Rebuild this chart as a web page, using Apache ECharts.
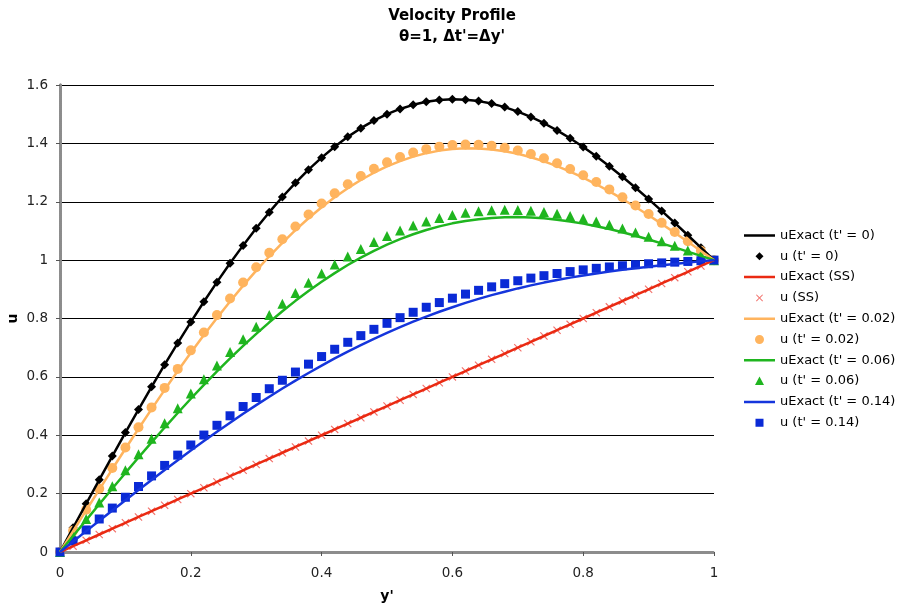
<!DOCTYPE html>
<html>
<head>
<meta charset="utf-8">
<script src="https://cdn.jsdelivr.net/npm/echarts@6/dist/echarts.min.js"></script>
<style>
html,body{margin:0;padding:0;background:#fff;}
#chart{width:904px;height:609px;}
</style>
</head>
<body>
<div id="chart"></div>
<script>
// y' positions (shared by all series)
const yPrime = [0,0.02,0.04,0.06,0.08,0.1,0.12,0.14,0.16,0.18,0.2,0.22,0.24,0.26,0.28,0.3,0.32,0.34,0.36,0.38,0.4,0.42,0.44,0.46,0.48,0.5,0.52,0.54,0.56,0.58,0.6,0.62,0.64,0.66,0.68,0.7,0.72,0.74,0.76,0.78,0.8,0.82,0.84,0.86,0.88,0.9,0.92,0.94,0.96,0.98,1];

// t' = 0 (exact and numerical coincide)
const uExact0 = [0,0.0828,0.1653,0.2474,0.3287,0.409,0.4881,0.5658,0.6418,0.7158,0.7878,0.8574,0.9245,0.989,1.0505,1.109,1.1643,1.2163,1.2648,1.3098,1.3511,1.3886,1.4223,1.4521,1.478,1.5,1.518,1.5321,1.5423,1.5486,1.5511,1.5498,1.5448,1.5363,1.5243,1.509,1.4905,1.469,1.4445,1.4174,1.3878,1.3558,1.3218,1.2858,1.2481,1.209,1.1687,1.1274,1.0853,1.0428,1];
const uNum0 = [0,0.0828,0.1653,0.2474,0.3287,0.409,0.4881,0.5658,0.6418,0.7158,0.7878,0.8574,0.9245,0.989,1.0505,1.109,1.1643,1.2163,1.2648,1.3098,1.3511,1.3886,1.4223,1.4521,1.478,1.5,1.518,1.5321,1.5423,1.5486,1.5511,1.5498,1.5448,1.5363,1.5243,1.509,1.4905,1.469,1.4445,1.4174,1.3878,1.3558,1.3218,1.2858,1.2481,1.209,1.1687,1.1274,1.0853,1.0428,1];

// steady state
const uExactSS = [0,0.02,0.04,0.06,0.08,0.1,0.12,0.14,0.16,0.18,0.2,0.22,0.24,0.26,0.28,0.3,0.32,0.34,0.36,0.38,0.4,0.42,0.44,0.46,0.48,0.5,0.52,0.54,0.56,0.58,0.6,0.62,0.64,0.66,0.68,0.7,0.72,0.74,0.76,0.78,0.8,0.82,0.84,0.86,0.88,0.9,0.92,0.94,0.96,0.98,1];
const uNumSS = [0,0.02,0.04,0.06,0.08,0.1,0.12,0.14,0.16,0.18,0.2,0.22,0.24,0.26,0.28,0.3,0.32,0.34,0.36,0.38,0.4,0.42,0.44,0.46,0.48,0.5,0.52,0.54,0.56,0.58,0.6,0.62,0.64,0.66,0.68,0.7,0.72,0.74,0.76,0.78,0.8,0.82,0.84,0.86,0.88,0.9,0.92,0.94,0.96,0.98,1];

// t' = 0.02
const uExact002 = [0,0.0716,0.1429,0.2139,0.2842,0.3537,0.4222,0.4896,0.5556,0.6199,0.6826,0.7433,0.802,0.8585,0.9126,0.9642,1.0132,1.0594,1.1028,1.1434,1.1809,1.2152,1.2465,1.2745,1.2994,1.321,1.3394,1.3545,1.3665,1.3752,1.3809,1.3834,1.3828,1.3794,1.3732,1.3642,1.3526,1.3385,1.322,1.3033,1.2826,1.2599,1.2356,1.2096,1.1822,1.1537,1.1242,1.0939,1.0629,1.0316,1];
const uNum002 = [0,0.0724,0.1446,0.2165,0.2877,0.358,0.4274,0.4955,0.5623,0.6274,0.6908,0.7522,0.8116,0.8687,0.9234,0.9755,1.025,1.0717,1.1155,1.1564,1.1942,1.2288,1.2602,1.2884,1.3133,1.335,1.3533,1.3684,1.3802,1.3888,1.3942,1.3964,1.3955,1.3917,1.385,1.3755,1.3634,1.3487,1.3316,1.3122,1.2908,1.2674,1.2423,1.2155,1.1874,1.158,1.1277,1.0965,1.0646,1.0324,1];

// t' = 0.06
const uExact006 = [0,0.0547,0.1093,0.1636,0.2175,0.2709,0.3236,0.3755,0.4264,0.4763,0.5251,0.5725,0.6185,0.6631,0.7061,0.7474,0.7869,0.8246,0.8604,0.8942,0.926,0.9556,0.9832,1.0086,1.0319,1.053,1.0719,1.0886,1.1032,1.1156,1.126,1.1342,1.1404,1.1446,1.1469,1.1474,1.1461,1.1431,1.1385,1.1325,1.1251,1.1163,1.1064,1.0955,1.0836,1.0709,1.0575,1.0436,1.0293,1.0147,1];
const uNum006 = [0,0.0566,0.113,0.1693,0.225,0.2801,0.3346,0.3882,0.4409,0.4924,0.5427,0.5916,0.6391,0.685,0.7292,0.7716,0.8122,0.8509,0.8875,0.9221,0.9545,0.9847,1.0127,1.0384,1.0618,1.083,1.1018,1.1184,1.1327,1.1447,1.1545,1.1621,1.1675,1.1709,1.1722,1.1716,1.1692,1.165,1.1591,1.1516,1.1427,1.1324,1.1209,1.1082,1.0946,1.0801,1.065,1.0493,1.033,1.0166,1];

// t' = 0.14
const uExact014 = [0,0.0358,0.0715,0.107,0.1424,0.1776,0.2124,0.2469,0.2809,0.3145,0.3475,0.38,0.4118,0.443,0.4734,0.5031,0.5319,0.56,0.5871,0.6134,0.6387,0.6631,0.6866,0.709,0.7305,0.751,0.7705,0.789,0.8066,0.8231,0.8387,0.8534,0.8671,0.88,0.8919,0.9031,0.9134,0.923,0.9318,0.94,0.9475,0.9545,0.9609,0.9669,0.9724,0.9776,0.9824,0.987,0.9915,0.9958,1];
const uNum014 = [0,0.0378,0.0755,0.1131,0.1505,0.1876,0.2244,0.2607,0.2966,0.3319,0.3666,0.4007,0.4341,0.4667,0.4984,0.5294,0.5594,0.5884,0.6165,0.6436,0.6696,0.6946,0.7185,0.7413,0.7629,0.7835,0.8029,0.8213,0.8385,0.8546,0.8696,0.8836,0.8965,0.9084,0.9194,0.9294,0.9384,0.9467,0.9541,0.9607,0.9666,0.9719,0.9766,0.9807,0.9844,0.9876,0.9905,0.9931,0.9955,0.9978,1];

const seriesNames = ["uExact (t' = 0)","u (t' = 0)","uExact (SS)","u (SS)","uExact (t' = 0.02)","u (t' = 0.02)","uExact (t' = 0.06)","u (t' = 0.06)","uExact (t' = 0.14)","u (t' = 0.14)"];
const xTicks = {min:0, max:1, step:0.2};
const yTicks = {min:0, max:1.6, step:0.2};

const pairs = arr => yPrime.map((x,i)=>[x,arr[i]]);
const FONT = 'DejaVu Sans';
const crossPath = 'path://M0,1L1,0L5,4L9,0L10,1L6,5L10,9L9,10L5,6L1,10L0,9L4,5Z';

// legend icons: tiny anchor segments fix the icon box to 31x12 so shapes keep their own size
const A = 'M0,0L0.01,0M31,12L30.99,12';
const icons = {
  line: 'path://' + A + 'M0,4.75L31,4.75L31,7.25L0,7.25Z',
  diamond: 'path://' + A + 'M15.5,2L19.5,6L15.5,10L11.5,6Z',
  cross: 'path://' + A + 'M12,3.2L12.7,2.5L15.5,5.3L18.3,2.5L19,3.2L16.2,6L19,8.8L18.3,9.5L15.5,6.7L12.7,9.5L12,8.8L14.8,6Z',
  circle: 'path://' + A + 'M11,6A4.5,4.5,0,1,1,20,6A4.5,4.5,0,1,1,11,6Z',
  triangle: 'path://' + A + 'M15.5,1.5L20,10L11,10Z',
  square: 'path://' + A + 'M11.5,2L19.5,2L19.5,10L11.5,10Z'
};
const legendIcons = [icons.line, icons.diamond, icons.line, icons.cross, icons.line, icons.circle, icons.line, icons.triangle, icons.line, icons.square];

function lineS(name, data, color){
  return {name, type:'line', data:pairs(data), symbol:'none', showSymbol:false,
    lineStyle:{color, width:2.5}, itemStyle:{color}, silent:true, animation:false};
}
function scatS(name, data, color, symbol, size){
  return {name, type:'scatter', data:pairs(data), symbol, symbolSize:size,
    itemStyle:{color, opacity:1}, silent:true, animation:false};
}

const chart = echarts.init(document.getElementById('chart'), null, {renderer:'canvas'});
const borderLine = {show:true, lineStyle:{color:'#8c8c8c', width:3, type:[1,1]}};
chart.setOption({
  backgroundColor:'#fff',
  animation:false,
  title:{
    text:'Velocity Profile\nθ=1, Δt\'=Δy\'',
    left:'center', top:1,
    textStyle:{fontFamily:FONT, fontSize:15, fontWeight:'bold', color:'#000', lineHeight:21}
  },
  legend:{
    orient:'vertical', left:744, top:229, padding:0,
    itemWidth:31, itemHeight:12, itemGap:7.8,
    symbolKeepAspect:true,
    itemStyle:{borderWidth:0},
    data:seriesNames.map((n,i)=>({name:n, icon:legendIcons[i]})),
    textStyle:{fontFamily:FONT, fontSize:13, color:'#000'},
    selectedMode:false
  },
  grid:{left:60, top:85, width:654, height:467, containLabel:false, outerBoundsMode:'none'},
  xAxis:[{
    type:'value', min:xTicks.min, max:xTicks.max, interval:xTicks.step,
    name:"y'", nameLocation:'middle', nameGap:37, nameMoveOverlap:false,
    nameTextStyle:{fontFamily:FONT, fontSize:14, fontWeight:'bold', color:'#000'},
    axisLine:borderLine,
    axisTick:{show:true, length:4, lineStyle:{color:'#555'}},
    axisLabel:{fontFamily:FONT, fontSize:13.5, color:'#222', margin:14},
    splitLine:{show:false}
  },{
    type:'value', position:'top', min:xTicks.min, max:xTicks.max, interval:xTicks.step,
    axisLine:borderLine, axisTick:{show:false}, axisLabel:{show:false}, splitLine:{show:false}
  }],
  yAxis:[{
    type:'value', min:yTicks.min, max:yTicks.max, interval:yTicks.step,
    name:'u', nameLocation:'middle', nameGap:40, nameRotate:90, nameMoveOverlap:false,
    nameTextStyle:{fontFamily:FONT, fontSize:14, fontWeight:'bold', color:'#000'},
    axisLine:borderLine,
    axisTick:{show:true, length:4, lineStyle:{color:'#555'}},
    axisLabel:{fontFamily:FONT, fontSize:13.5, color:'#222', margin:12},
    splitLine:{show:true, lineStyle:{color:'#000', width:1}}
  },{
    type:'value', position:'right', min:yTicks.min, max:yTicks.max, interval:yTicks.step,
    axisLine:borderLine, axisTick:{show:false}, axisLabel:{show:false}, splitLine:{show:false}
  }],
  series:[
    lineS(seriesNames[0], uExact0, '#000000'),
    scatS(seriesNames[1], uNum0, '#000000', 'diamond', 9),
    lineS(seriesNames[2], uExactSS, '#ea2a12'),
    scatS(seriesNames[3], uNumSS, '#f2706a', crossPath, 8),
    lineS(seriesNames[4], uExact002, '#ffb45e'),
    scatS(seriesNames[5], uNum002, '#ffb45e', 'circle', 10),
    lineS(seriesNames[6], uExact006, '#1fb51f'),
    scatS(seriesNames[7], uNum006, '#1fb51f', 'triangle', 10),
    lineS(seriesNames[8], uExact014, '#1535dc'),
    scatS(seriesNames[9], uNum014, '#0a2ad6', 'rect', 9)
  ]
});
</script>
</body>
</html>
